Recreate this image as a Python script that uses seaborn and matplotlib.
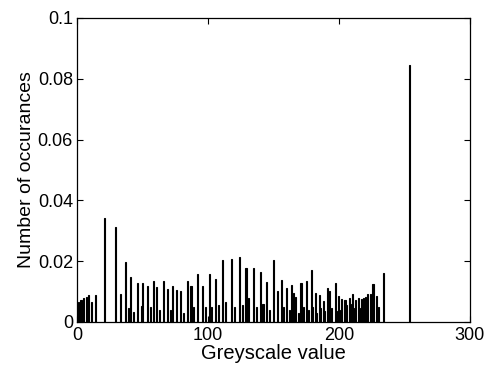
import matplotlib
matplotlib.use("Agg")
import matplotlib.pyplot as plt
import seaborn as sns
import pandas as pd
from matplotlib.ticker import FuncFormatter

# Greyscale values (bins) and their relative occurrences
grey_values = [1, 3, 5, 7, 9, 11, 14, 21, 29, 33, 37, 39, 41, 43, 46, 49, 50,
               54, 56, 58, 61, 63, 66, 69, 71, 73, 76, 79, 81, 84, 87, 89, 92,
               96, 98, 101, 103, 106, 108, 111, 113, 118, 120, 124, 126, 129,
               131, 135, 137, 140, 142, 145, 147, 150, 153, 156, 158, 160, 162,
               164, 165, 167, 169, 171, 173, 175, 177, 179, 180, 182, 183, 185,
               186, 188, 189, 191, 193, 194, 197, 198, 200, 201, 202, 204, 205,
               206, 208, 209, 210, 212, 213, 215, 216, 217, 219, 220, 222, 224,
               226, 229, 230, 234, 254]
occurrences = [0.0065, 0.0072, 0.0078, 0.0082, 0.0088, 0.0065, 0.0088, 0.0343,
               0.0311, 0.0092, 0.0196, 0.0046, 0.0149, 0.0034, 0.0129, 0.0053,
               0.0129, 0.0118, 0.0050, 0.0135, 0.0116, 0.0040, 0.0135, 0.0107,
               0.0040, 0.0118, 0.0105, 0.0103, 0.0030, 0.0136, 0.0118, 0.0050,
               0.0157, 0.0118, 0.0050, 0.0157, 0.0050, 0.0140, 0.0055, 0.0204,
               0.0064, 0.0207, 0.0048, 0.0215, 0.0055, 0.0177, 0.0078, 0.0177,
               0.0050, 0.0165, 0.0060, 0.0130, 0.0040, 0.0204, 0.0103, 0.0138,
               0.0050, 0.0110, 0.0040, 0.0120, 0.0094, 0.0083, 0.0030, 0.0127,
               0.0050, 0.0136, 0.0040, 0.0171, 0.0050, 0.0094, 0.0030, 0.0087,
               0.0045, 0.0070, 0.0035, 0.0110, 0.0101, 0.0045, 0.0129, 0.0035,
               0.0085, 0.0040, 0.0075, 0.0073, 0.0072, 0.0055, 0.0078, 0.0060,
               0.0091, 0.0045, 0.0072, 0.0080, 0.0045, 0.0075, 0.0078, 0.0083,
               0.0091, 0.0091, 0.0125, 0.0085, 0.0050, 0.0162, 0.0845]

x_ticks = [0, 100, 200, 300]
y_ticks = [0, 0.02, 0.04, 0.06, 0.08, 0.1]
x_label = "Greyscale value"
y_label = "Number of occurances"

sns.set_theme(style="white")
plt.rcParams["font.family"] = ["Liberation Sans", "DejaVu Sans"]

df = pd.DataFrame({"grey": grey_values, "occ": occurrences})

fig = plt.figure(figsize=(4.91, 3.65), dpi=100)
ax = fig.add_axes([0.157, 0.118, 0.800, 0.833])

sns.barplot(data=df, x="grey", y="occ", native_scale=True, color="black",
            edgecolor="black", linewidth=0.8, width=0.8, saturation=1,
            errorbar=None, ax=ax)

ax.set_xlim(0, 300)
ax.set_ylim(0, 0.1)
ax.set_xticks(x_ticks)
ax.set_yticks(y_ticks)
ax.xaxis.set_major_formatter(FuncFormatter(lambda v, p: f"{v:g}"))
ax.yaxis.set_major_formatter(FuncFormatter(lambda v, p: f"{v:g}"))
ax.tick_params(direction="in", length=4, width=0.8, colors="black",
               labelsize=13, top=True, right=True, bottom=True, left=True,
               pad=2)
ax.tick_params(axis="x", pad=3.5)
ax.tick_params(axis="y", pad=3)
for s in ax.spines.values():
    s.set_visible(True)
    s.set_color("black")
    s.set_linewidth(0.9)

ax.set_xlabel(x_label, fontsize=14.5, color="black", labelpad=0)
ax.set_ylabel(y_label, fontsize=14, color="black", labelpad=2)

fig.savefig("out.png", dpi=100, facecolor="white")
